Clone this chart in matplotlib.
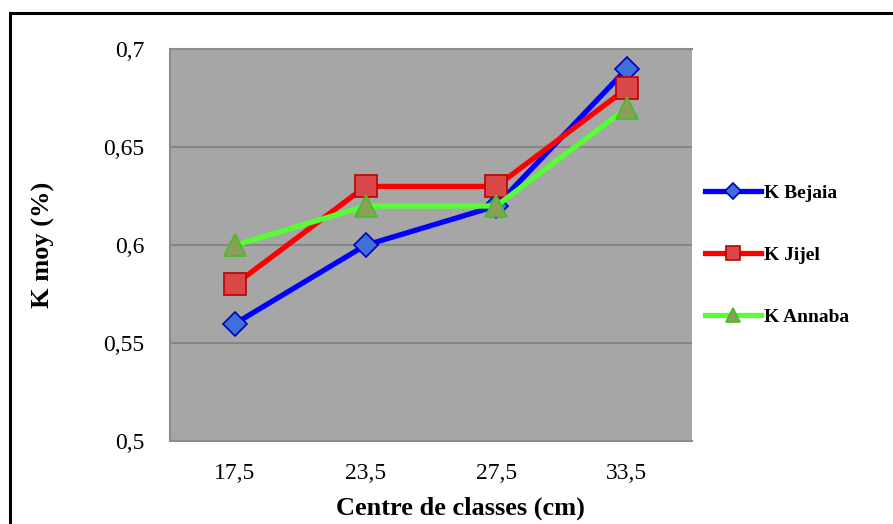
import matplotlib.pyplot as plt
from matplotlib.lines import Line2D

plt.rcParams['font.family'] = ['Liberation Serif', 'DejaVu Serif']

# data
classes = ['17,5', '23,5', '27,5', '33,5']
k_bejaia = [0.56, 0.60, 0.62, 0.69]
k_jijel = [0.58, 0.63, 0.63, 0.68]
k_annaba = [0.60, 0.62, 0.62, 0.67]
y_ticks = [0.5, 0.55, 0.6, 0.65, 0.7]
y_tick_labels = ['0,5', '0,55', '0,6', '0,65', '0,7']

fig = plt.figure(figsize=(8.93, 5.24), dpi=100)
ax = fig.add_axes([0.190, 0.158, 0.585, 0.748])
ax.set_facecolor('#a6a6a6')

x = range(len(classes))
ax.plot(x, k_bejaia, color='#0000ff', lw=3.8, marker='D', ms=12,
        mfc='#3f6fd8', mec='#0000c0', mew=1.2, label='K Bejaia', zorder=3)
ax.plot(x, k_jijel, color='#ff0000', lw=3.8, marker='s', ms=16,
        mfc='#d84848', mec='#c00000', mew=1.2, label='K Jijel', zorder=4)
ax.plot(x, k_annaba, color='#55ff33', lw=3.8, marker='^', ms=16,
        mfc='#8aa05a', mec='#40c020', mew=1.2, label='K Annaba', zorder=5)

ax.set_xlim(-0.5, len(classes) - 0.5)
ax.set_ylim(0.5, 0.7)
ax.set_xticks(list(x))
ax.set_xticklabels(classes, fontsize=17)
ax.set_yticks(y_ticks)
ax.set_yticklabels(y_tick_labels, fontsize=17)
ax.tick_params(length=0, pad=18)
ax.tick_params(axis='x', pad=16)
ax.grid(axis='y', color='#868686', lw=1.5)
ax.set_axisbelow(True)
for s in ax.spines.values():
    s.set_color('#8c8c8c')
    s.set_linewidth(1.5)
ax.spines['right'].set_visible(False)

ax.set_ylabel('K moy (%)', fontsize=19, fontweight='bold')
ax.set_xlabel('Centre de classes (cm)', fontsize=19, fontweight='bold')
ax.yaxis.set_label_coords(-0.22, 0.5)
ax.xaxis.set_label_coords(0.556, -0.142)

leg = ax.legend(loc='center left', bbox_to_anchor=(1.0, 0.475), frameon=False,
                prop={'size': 14, 'weight': 'bold'}, labelspacing=2.3,
                handlelength=2.9, handletextpad=0.15, borderaxespad=0.25)
for h in leg.legend_handles:
    h.set_markersize(h.get_markersize() * 0.65)

# figure frame (only left and top edges visible)
fig.add_artist(Line2D([0.0115, 0.0115], [0.0, 0.975], color='black', lw=2.2,
                      transform=fig.transFigure))
fig.add_artist(Line2D([0.0115, 1.0], [0.975, 0.975], color='black', lw=2.2,
                      transform=fig.transFigure))

fig.savefig('out.png', dpi=100)
